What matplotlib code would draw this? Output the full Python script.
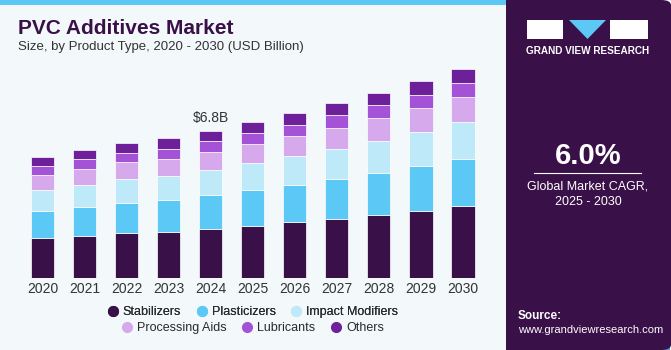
import matplotlib
matplotlib.use("Agg")
import matplotlib.pyplot as plt
import numpy as np
from matplotlib.patches import FancyBboxPatch, Rectangle, Polygon
from matplotlib.colors import LinearSegmentedColormap

plt.rcParams['font.family'] = ['Liberation Sans', 'DejaVu Sans']

years = ["2020", "2021", "2022", "2023", "2024", "2025", "2026", "2027", "2028", "2029", "2030"]
segments = ["Stabilizers", "Plasticizers", "Impact Modifiers", "Processing Aids", "Lubricants", "Others"]
stabilizers = [1.85, 1.95, 2.08, 2.14, 2.28, 2.41, 2.58, 2.74, 2.92, 3.11, 3.31]
plasticizers = [1.26, 1.34, 1.40, 1.48, 1.54, 1.65, 1.72, 1.83, 1.94, 2.04, 2.20]
impact_modifiers = [0.96, 1.02, 1.08, 1.11, 1.17, 1.23, 1.31, 1.40, 1.48, 1.60, 1.69]
processing_aids = [0.68, 0.74, 0.78, 0.78, 0.84, 0.88, 0.94, 0.97, 1.03, 1.08, 1.14]
lubricants = [0.43, 0.43, 0.45, 0.46, 0.49, 0.52, 0.52, 0.59, 0.60, 0.63, 0.66]
others = [0.42, 0.43, 0.46, 0.48, 0.48, 0.49, 0.54, 0.55, 0.59, 0.61, 0.65]
colors = ["#3a1048", "#5bc8f5", "#bde9f9", "#d5a9ec", "#a452d6", "#6e1f9a"]
label_year = "2024"
label_text = "$6.8B"
cagr = "6.0%"

W, H = 671, 350
fig = plt.figure(figsize=(W / 100, H / 100), dpi=100)
fig.patch.set_facecolor("#f3f8fb")

# top accent line
fig.add_artist(Rectangle((0, 1 - 5 / H), 506 / W, 5 / H, transform=fig.transFigure,
                         facecolor="#5bc8f5", edgecolor="none"))

# right panel (square left edge, rounded right corners)
fig.add_artist(Rectangle((506 / W, 0), 30 / W, 1.0, transform=fig.transFigure,
                         facecolor="#3a1048", edgecolor="none"))
fig.add_artist(FancyBboxPatch((520 / W, 0), (W - 520) / W, 1.0, transform=fig.transFigure,
                              boxstyle="round,pad=0,rounding_size=0.015",
                              facecolor="#3a1048", edgecolor="none"))
grad_ax = fig.add_axes([506 / W, 0, (W - 506 - 2) / W, 75 / H])
g = np.linspace(0, 1, 50)[:, None]
cm = LinearSegmentedColormap.from_list("p", ["#4fa3d8", "#47609f", "#3a1048"])
grad_ax.imshow(g, aspect="auto", cmap=cm, extent=[0, 1, 0, 1], origin="lower")
grad_ax.axis("off")

# logo
fig.add_artist(Rectangle((527 / W, 1 - 39 / H), 36 / W, 19 / H, transform=fig.transFigure,
                         facecolor="white", edgecolor="none"))
fig.add_artist(Polygon([[569 / W, 1 - 20 / H], [606 / W, 1 - 20 / H], [587.5 / W, 1 - 39 / H]],
                       transform=fig.transFigure, facecolor="#5bc8f5", edgecolor="none"))
fig.add_artist(Rectangle((610 / W, 1 - 39 / H), 38 / W, 19 / H, transform=fig.transFigure,
                         facecolor="white", edgecolor="none"))
fig.text(588 / W, 1 - 51 / H, "GRAND VIEW RESEARCH", color="white", fontsize=7.2,
         fontweight="bold", ha="center", va="center")

fig.text(588 / W, 1 - 156 / H, cagr, color="white", fontsize=21, fontweight="bold",
         ha="center", va="center")
fig.add_artist(plt.Line2D([534 / W, 641 / W], [1 - 173 / H, 1 - 173 / H],
                          transform=fig.transFigure, color="white", lw=0.8))
fig.text(588 / W, 1 - 186 / H, "Global Market CAGR,", color="white", fontsize=9,
         ha="center", va="center")
fig.text(588 / W, 1 - 202 / H, "2025 - 2030", color="white", fontsize=9,
         ha="center", va="center")
fig.text(518 / W, 1 - 316 / H, "Source:", color="white", fontsize=8.5,
         fontweight="bold", ha="left", va="center")
fig.text(518 / W, 1 - 330 / H, "www.grandviewresearch.com", color="white", fontsize=8,
         ha="left", va="center")

# titles
fig.text(18 / W, 1 - 28 / H, "PVC Additives Market", color="#3a1048", fontsize=15,
         fontweight="bold", ha="left", va="center")
fig.text(18 / W, 1 - 47 / H, "Size, by Product Type, 2020 - 2030 (USD Billion)",
         color="#333333", fontsize=9.5, ha="left", va="center")

# chart
ax = fig.add_axes([20 / W, (H - 278) / H, 465 / W, 218 / H])
ax.set_facecolor("#f3f8fb")
x = np.arange(len(years))
series = [stabilizers, plasticizers, impact_modifiers, processing_aids, lubricants, others]
bottom = np.zeros(len(years))
handles = []
for name, vals, c in zip(segments, series, colors):
    ax.bar(x, vals, 0.55, bottom=bottom, color=c, edgecolor="white", linewidth=0.5, label=name)
    handles.append(plt.Line2D([], [], marker="o", ls="none", color=c, markersize=7, label=name))
    bottom += np.array(vals)

i = years.index(label_year)
ax.text(x[i], bottom[i] + 0.25, label_text, ha="center", va="bottom", fontsize=10, color="#333333")

ax.set_xlim(-0.535, 10.523)
ax.set_ylim(0, 10.06)
ax.set_xticks(x)
ax.set_xticklabels(years, fontsize=10, color="#333333")
ax.tick_params(axis="x", length=0, pad=3)
ax.set_yticks([])
for s in ax.spines.values():
    s.set_visible(False)

legkw = dict(loc="center", ncol=3, frameon=False, fontsize=9, handletextpad=0.25,
             columnspacing=1.1, handlelength=1.1)
leg1 = fig.legend(handles=handles[:3], bbox_to_anchor=(252 / W, 1 - 312 / H), **legkw)
leg2 = fig.legend(handles=handles[3:], bbox_to_anchor=(252 / W, 1 - 328 / H), **legkw)
fig.add_artist(leg1)
for leg in (leg1, leg2):
    for t in leg.get_texts():
        t.set_color("#2a2a2a")

fig.savefig("out.png", dpi=100, facecolor=fig.get_facecolor())
